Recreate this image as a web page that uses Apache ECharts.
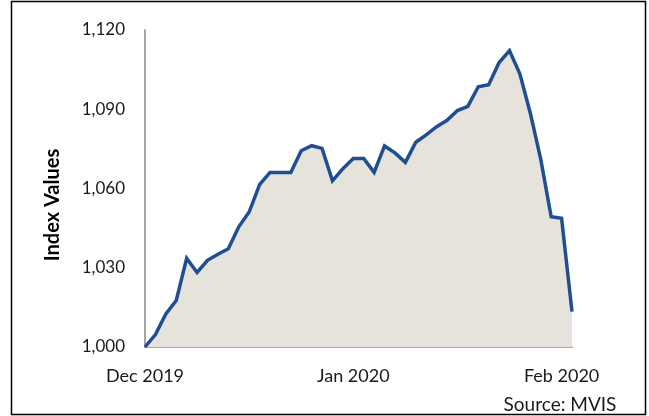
<!DOCTYPE html>
<html>
<head>
<meta charset="utf-8">
<script src="https://cdn.jsdelivr.net/npm/echarts@6/dist/echarts.min.js"></script>
<style>
html,body{margin:0;padding:0;background:#fff;}
#chart{width:649px;height:416px;}
</style>
</head>
<body>
<div id="chart"></div>
<script>
// Trading days, Dec 2019 – Jan 2020
var categories = [
  '2019-12-02','2019-12-03','2019-12-04','2019-12-05','2019-12-06',
  '2019-12-09','2019-12-10','2019-12-11','2019-12-12','2019-12-13',
  '2019-12-16','2019-12-17','2019-12-18','2019-12-19','2019-12-20',
  '2019-12-23','2019-12-24','2019-12-26','2019-12-27','2019-12-30',
  '2019-12-31','2020-01-02','2020-01-03','2020-01-06','2020-01-07',
  '2020-01-08','2020-01-09','2020-01-10','2020-01-13','2020-01-14',
  '2020-01-15','2020-01-16','2020-01-17','2020-01-21','2020-01-22',
  '2020-01-23','2020-01-24','2020-01-27','2020-01-28','2020-01-29',
  '2020-01-30','2020-01-31'
];
var indexValues = [
  1000, 1004.7, 1012.5, 1017.6, 1033.6, 1028.2, 1032.8, 1035.1, 1037.2, 1045.5,
  1051.1, 1061.5, 1066.1, 1066.1, 1066.1, 1074.3, 1076.2, 1075.2, 1062.9, 1067.5,
  1071.4, 1071.4, 1066.1, 1076.1, 1073.5, 1069.9, 1077.5, 1080.3, 1083.4, 1085.8,
  1089.5, 1091.1, 1098.5, 1099.3, 1107.7, 1112.2, 1103.3, 1088.5, 1071.0, 1049.3,
  1048.7, 1013.4
];
var xTickLabels = ['Dec 2019', 'Jan 2020', 'Feb 2020'];
var yMin = 1000, yMax = 1120, yStep = 30;
var yTitle = 'Index Values';
var sourceText = 'Source: MVIS';

var chart = echarts.init(document.getElementById('chart'), null, {renderer: 'canvas'});
var font = 'Lato, "Open Sans", sans-serif';
chart.setOption({
  animation: false,
  backgroundColor: '#ffffff',
  grid: {left: 145, right: 77, top: 30, bottom: 69, containLabel: false},
  xAxis: {
    type: 'category',
    data: categories,
    boundaryGap: false,
    axisLine: {show: true, lineStyle: {color: '#a6a6a6', width: 2}},
    axisTick: {show: false},
    axisLabel: {
      interval: 19,
      margin: 20,
      color: '#1a1a1a',
      fontSize: 18,
      fontFamily: font,
      formatter: function (v, i) { return xTickLabels[Math.round(i / 20)] || ''; }
    },
    splitLine: {show: false}
  },
  yAxis: {
    type: 'value',
    min: yMin, max: yMax, interval: yStep,
    axisLine: {show: true, lineStyle: {color: '#a6a6a6', width: 2}},
    axisTick: {show: false},
    splitLine: {show: false},
    axisLabel: {
      margin: 20,
      color: '#1a1a1a',
      fontSize: 17,
      fontFamily: font,
      formatter: function (v) { return v.toLocaleString('en-US'); }
    }
  },
  series: [{
    type: 'line',
    data: indexValues,
    symbol: 'none',
    lineStyle: {color: '#1f4e91', width: 3.5, join: 'miter'},
    areaStyle: {color: '#e6e2dc', opacity: 1, origin: 'start'}
  }],
  graphic: [
    {type: 'rect', shape: {x: 11.5, y: 1.5, width: 634, height: 413},
     style: {fill: null, stroke: '#000000', lineWidth: 1.5}, silent: true, z: 100},
    {type: 'text', x: 53, y: 205, rotation: Math.PI / 2,
     style: {text: yTitle, fill: '#000', font: 'bold 20px ' + font, align: 'center', verticalAlign: 'middle'}},
    {type: 'text', x: 560, y: 405,
     style: {text: sourceText, fill: '#1a1a1a', font: '19px ' + font, align: 'center', verticalAlign: 'middle'}}
  ]
});
</script>
</body>
</html>
